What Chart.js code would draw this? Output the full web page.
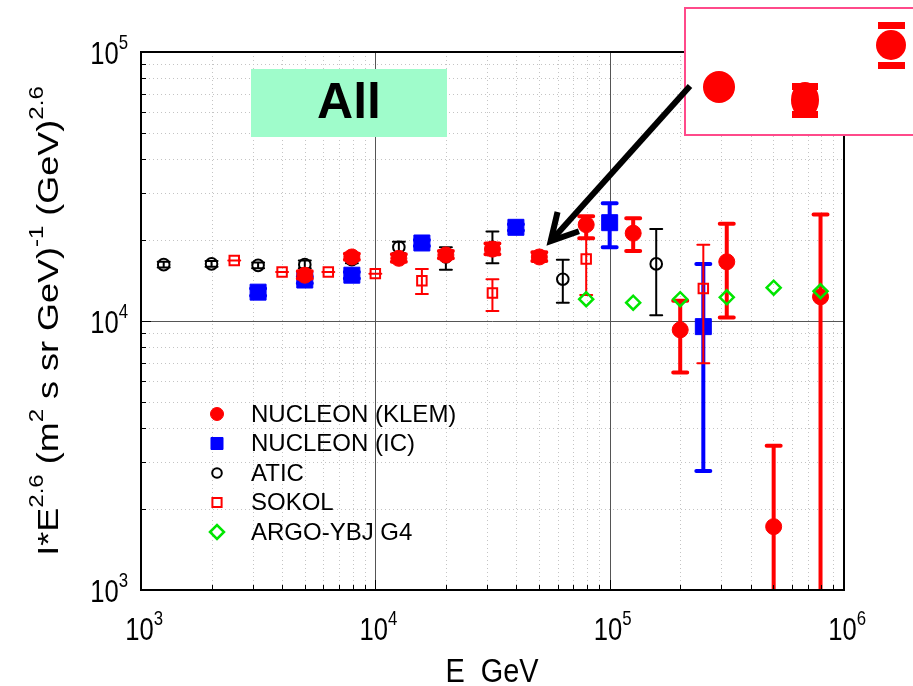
<!DOCTYPE html>
<html>
<head>
<meta charset="utf-8">
<script src="https://cdn.jsdelivr.net/npm/chart.js@4"></script>
<style>
  html, body { margin: 0; padding: 0; background: #fff; }
</style>
</head>
<body>
<canvas id="c" width="913" height="686"></canvas>
<script>
// ---- data ----
var klemE  = [5000, 7940, 12600, 20000, 31600, 50100, 79400, 126000, 200000, 316000, 501000, 794000];
var klemI  = [14800, 17300, 17100, 17600, 18500, 17300, 22800, 21200, 9270, 16600, 1720, 12300];
var klemLo = [14400, 16900, 16600, 17100, 17700, 16700, 20300, 18200, 6440, 10300, 900, 500];
var klemHi = [15300, 17800, 17700, 18200, 19400, 18000, 24500, 24100, 11900, 23000, 3440, 24900];

var icE  = [3160, 5000, 7940, 15800, 39800, 100000, 251000];
var icI  = [12800, 14200, 14800, 19500, 22300, 23200, 9530];
var icLo = [12400, 13800, 14400, 19000, 21700, 18800, 2770];
var icHi = [13200, 14600, 15200, 20000, 22900, 27400, 16300];

var aticE  = [1250, 2000, 3160, 5000, 7940, 12600, 20000, 31600, 63100, 158000];
var aticI  = [16200, 16300, 16100, 16200, 16900, 18800, 17300, 18800, 14300, 16300];
var aticLo = [15800, 15900, 15700, 15700, 16400, 17900, 15500, 16400, 11700, 10500];
var aticHi = [16600, 16700, 16500, 16800, 17500, 19700, 18800, 21500, 16900, 22000];

var sokolE  = [2500, 4000, 6300, 10000, 15800, 31600, 79400, 251000];
var sokolI  = [16800, 15200, 15200, 15000, 14100, 12700, 17000, 13200];
var sokolLo = [16800, 15200, 15200, 15000, 12600, 10900, 12500, 6970];
var sokolHi = [16800, 15200, 15200, 15000, 15600, 14300, 20300, 19200];

var argoE = [79400, 126000, 200000, 316000, 501000, 794000];
var argoI = [12050, 11700, 12050, 12250, 13300, 12900];

var xTicks = [1e3, 1e4, 1e5, 1e6];
var yTicks = [1e3, 1e4, 1e5];

function pts(xs, ys) {
  var out = [];
  for (var i = 0; i < xs.length; i++) out.push({ x: xs[i], y: ys[i] });
  return out;
}

var red = '#ff0000', blue = '#0000ff', green = '#00e600';

// error bars, drawn just before each dataset so layering stays right
var errBars = {
  'NUCLEON (KLEM)': { lo: klemLo, hi: klemHi, color: red, w: 4, cap: 7 },
  'NUCLEON (IC)':   { lo: icLo, hi: icHi, color: blue, w: 4, cap: 7 },
  'ATIC':           { lo: aticLo, hi: aticHi, color: '#000', w: 2, cap: 6 },
  'SOKOL':          { lo: sokolLo, hi: sokolHi, color: red, w: 2, cap: 6 }
};

// draws "base" + superscript pieces; parts = [[text, isSup], ...]
function richWidth(ctx, parts, size, sup) {
  var w = 0;
  parts.forEach(function(p) {
    ctx.font = (p[1] ? sup : size) + 'px "Liberation Sans", Arial, sans-serif';
    w += ctx.measureText(p[0]).width;
  });
  return w;
}
function drawRich(ctx, parts, x, y, size, sup, supRise) {
  parts.forEach(function(p) {
    ctx.font = (p[1] ? sup : size) + 'px "Liberation Sans", Arial, sans-serif';
    ctx.fillText(p[0], x, p[1] ? y - supRise : y);
    x += ctx.measureText(p[0]).width;
  });
}

var errorPlugin = {
  id: 'errbars',
  beforeDatasetDraw: function(chart, args) {
    var ds = chart.data.datasets[args.index];
    var eb = errBars[ds.label];
    if (!eb) return;
    var ctx = chart.ctx, xs = chart.scales.x, ys = chart.scales.y, a = chart.chartArea;
    ctx.save();
    ctx.beginPath();
    ctx.rect(a.left, a.top, a.right - a.left, a.bottom - a.top);
    ctx.clip();
    ctx.strokeStyle = eb.color;
    ctx.lineWidth = eb.w;
    ctx.lineCap = 'round';
    ds.data.forEach(function(d, i) {
      var px = xs.getPixelForValue(d.x);
      var y1 = ys.getPixelForValue(eb.lo[i]);
      var y2 = ys.getPixelForValue(eb.hi[i]);
      ctx.beginPath();
      ctx.moveTo(px, y1); ctx.lineTo(px, y2);
      ctx.moveTo(px - eb.cap, y1); ctx.lineTo(px + eb.cap, y1);
      ctx.moveTo(px - eb.cap, y2); ctx.lineTo(px + eb.cap, y2);
      ctx.stroke();
    });
    ctx.restore();
  }
};

var framePlugin = {
  id: 'frame',
  beforeDatasetsDraw: function(chart) {
    var ctx = chart.ctx, xs = chart.scales.x, ys = chart.scales.y, a = chart.chartArea;
    ctx.save();
    // minor dotted grid
    ctx.strokeStyle = '#c4c4c4';
    ctx.lineWidth = 1;
    ctx.setLineDash([1, 3]);
    for (var e = 3; e < 6; e++) {
      for (var m = 2; m < 10; m++) {
        var px = Math.round(xs.getPixelForValue(m * Math.pow(10, e))) + 0.5;
        ctx.beginPath(); ctx.moveTo(px, a.top); ctx.lineTo(px, a.bottom); ctx.stroke();
      }
    }
    for (e = 3; e < 5; e++) {
      for (m = 2; m < 10; m++) {
        var py = Math.round(ys.getPixelForValue(m * Math.pow(10, e))) + 0.5;
        ctx.beginPath(); ctx.moveTo(a.left, py); ctx.lineTo(a.right, py); ctx.stroke();
      }
    }
    ctx.setLineDash([]);
    // decade lines
    ctx.strokeStyle = '#555';
    [1e4, 1e5].forEach(function(v) {
      var px = Math.round(xs.getPixelForValue(v)) + 0.5;
      ctx.beginPath(); ctx.moveTo(px, a.top); ctx.lineTo(px, a.bottom); ctx.stroke();
    });
    var p4 = Math.round(ys.getPixelForValue(1e4)) + 0.5;
    ctx.beginPath(); ctx.moveTo(a.left, p4); ctx.lineTo(a.right, p4); ctx.stroke();

    // "All" label box
    ctx.fillStyle = '#9ffccb';
    ctx.fillRect(251, 69, 196, 68);
    ctx.fillStyle = '#000';
    ctx.font = 'bold 50px "Liberation Sans", Arial, sans-serif';
    ctx.textAlign = 'center';
    ctx.textBaseline = 'middle';
    ctx.fillText('All', 349, 104);
    ctx.restore();
  },
  afterDraw: function(chart) {
    var ctx = chart.ctx, xs = chart.scales.x, ys = chart.scales.y, a = chart.chartArea;
    ctx.save();
    // frame
    ctx.strokeStyle = '#000';
    ctx.lineWidth = 2;
    ctx.strokeRect(a.left, a.top, a.right - a.left, a.bottom - a.top);
    // inward ticks
    ctx.lineWidth = 1;
    for (var e = 3; e < 6; e++) {
      for (var m = 1; m < 10; m++) {
        var v = m * Math.pow(10, e);
        var px = Math.round(xs.getPixelForValue(v)) + 0.5;
        ctx.beginPath(); ctx.moveTo(px, a.bottom); ctx.lineTo(px, a.bottom - (m === 1 ? 10 : 5)); ctx.stroke();
      }
    }
    for (e = 3; e < 5; e++) {
      for (m = 1; m < 10; m++) {
        v = m * Math.pow(10, e);
        var py = Math.round(ys.getPixelForValue(v)) + 0.5;
        ctx.beginPath(); ctx.moveTo(a.left, py); ctx.lineTo(a.left + (m === 1 ? 10 : 5), py); ctx.stroke();
      }
    }
    // tick labels 10^n
    ctx.fillStyle = '#000';
    ctx.textAlign = 'left';
    ctx.textBaseline = 'alphabetic';
    xTicks.forEach(function(v) {
      var parts = [['10', false], [String(Math.round(Math.log10(v))), true]];
      var px = xs.getPixelForValue(v);
      ctx.save();
      ctx.translate(px, 640);
      ctx.scale(0.8, 1);
      var w = richWidth(ctx, [['10', false]], 32, 21);
      drawRich(ctx, parts, -w / 2 - 2, 0, 32, 21, 15);
      ctx.restore();
    });
    yTicks.forEach(function(v) {
      var parts = [['10', false], [String(Math.round(Math.log10(v))), true]];
      var py = ys.getPixelForValue(v);
      ctx.save();
      ctx.translate(128, py + 12);
      ctx.scale(0.8, 1);
      var w = richWidth(ctx, parts, 32, 21);
      drawRich(ctx, parts, -w, 0, 32, 21, 15);
      ctx.restore();
    });
    // axis titles
    ctx.save();
    ctx.translate(492, 682);
    ctx.scale(0.85, 1);
    ctx.textAlign = 'center';
    ctx.font = '34px "Liberation Sans", Arial, sans-serif';
    ctx.fillText('E  GeV', 0, 0);
    ctx.restore();

    var yt = [['I*E', false], ['2.6', true], [' (m', false], ['2', true], [' s sr GeV)', false],
              ['-1', true], [' (GeV)', false], ['2.6', true]];
    ctx.save();
    ctx.translate(58, 321);
    ctx.rotate(-Math.PI / 2);
    ctx.scale(1.2, 1);
    ctx.textAlign = 'left';
    var tw = richWidth(ctx, yt, 30, 20);
    drawRich(ctx, yt, -tw / 2, 0, 30, 20, 15);
    ctx.restore();

    // legend
    var rows = [
      { t: 'NUCLEON (KLEM)', s: 'circle', r: 6.5, fill: red, stroke: red, lw: 1 },
      { t: 'NUCLEON (IC)', s: 'rect', r: 8.5, fill: blue, stroke: blue, lw: 1 },
      { t: 'ATIC', s: 'circle', r: 4.8, fill: null, stroke: '#000', lw: 2 },
      { t: 'SOKOL', s: 'rect', r: 6.5, fill: null, stroke: red, lw: 2 },
      { t: 'ARGO-YBJ G4', s: 'rectRot', r: 7, fill: null, stroke: green, lw: 2.5 }
    ];
    ctx.textBaseline = 'middle';
    rows.forEach(function(r, i) {
      var y = 414 + i * 29.5;
      ctx.fillStyle = r.fill || 'rgba(0,0,0,0)';
      ctx.strokeStyle = r.stroke;
      ctx.lineWidth = r.lw;
      Chart.helpers.drawPoint(ctx, { pointStyle: r.s, radius: r.r, borderWidth: r.lw, rotation: 0 }, 217, y);
      ctx.fillStyle = '#000';
      ctx.font = '24px "Liberation Sans", Arial, sans-serif';
      ctx.fillText(r.t, 251, y + 1);
    });

    // inset with zoomed points
    ctx.strokeStyle = '#ff4a8a';
    ctx.lineWidth = 2;
    ctx.fillStyle = '#fff';
    ctx.fillRect(685, 8, 240, 127);
    ctx.strokeRect(685, 8, 240, 127);
    ctx.fillStyle = red;
    ctx.beginPath(); ctx.arc(719, 87, 16, 0, Math.PI * 2); ctx.fill();
    ctx.beginPath(); ctx.ellipse(805, 100, 14, 18, 0, 0, Math.PI * 2); ctx.fill();
    ctx.fillRect(792, 83, 26, 7); ctx.fillRect(792, 111, 26, 7);
    ctx.beginPath(); ctx.arc(891, 45, 15, 0, Math.PI * 2); ctx.fill();
    ctx.fillRect(878, 22, 27, 7); ctx.fillRect(878, 62, 27, 7);

    // arrow pointing at the 50 TeV KLEM point
    var tx = xs.getPixelForValue(56000), ty = ys.getPixelForValue(19800);
    var sx = 690, sy = 86;
    var ang = Math.atan2(ty - sy, tx - sx);
    ctx.strokeStyle = '#000';
    ctx.lineWidth = 6;
    ctx.lineCap = 'butt';
    ctx.beginPath(); ctx.moveTo(sx, sy); ctx.lineTo(tx, ty); ctx.stroke();
    ctx.beginPath();
    ctx.moveTo(tx + 30 * Math.cos(ang + Math.PI - 0.5), ty + 30 * Math.sin(ang + Math.PI - 0.5));
    ctx.lineTo(tx, ty);
    ctx.lineTo(tx + 30 * Math.cos(ang + Math.PI + 0.5), ty + 30 * Math.sin(ang + Math.PI + 0.5));
    ctx.stroke();
    ctx.restore();
  }
};

var ctx = document.getElementById('c').getContext('2d');
new Chart(ctx, {
  type: 'scatter',
  data: {
    datasets: [
      { label: 'NUCLEON (KLEM)', data: pts(klemE, klemI), order: 2, pointStyle: 'circle', pointRadius: 8,
        backgroundColor: red, borderColor: red, borderWidth: 1 },
      { label: 'NUCLEON (IC)', data: pts(icE, icI), order: 3, pointStyle: 'rect', pointRadius: 11.3,
        backgroundColor: blue, borderColor: blue, borderWidth: 1 },
      { label: 'ATIC', data: pts(aticE, aticI), order: 4, pointStyle: 'circle', pointRadius: 5.8,
        backgroundColor: 'rgba(255,255,255,0)', borderColor: '#000', borderWidth: 2 },
      { label: 'SOKOL', data: pts(sokolE, sokolI), order: 1, pointStyle: 'rect', pointRadius: 6.7,
        backgroundColor: 'rgba(255,255,255,0)', borderColor: red, borderWidth: 2 },
      { label: 'ARGO-YBJ G4', data: pts(argoE, argoI), order: 0, pointStyle: 'rectRot', pointRadius: 7,
        backgroundColor: 'rgba(255,255,255,0)', borderColor: green, borderWidth: 2.5 }
    ]
  },
  options: {
    responsive: false,
    animation: false,
    devicePixelRatio: 1,
    layout: { padding: { left: 141, right: 69, top: 52, bottom: 96 } },
    scales: {
      x: { type: 'logarithmic', min: 1e3, max: 1e6,
           ticks: { display: false }, grid: { display: false }, border: { display: false },
           afterFit: function(s) { s.height = 0; } },
      y: { type: 'logarithmic', min: 1e3, max: 1e5,
           ticks: { display: false }, grid: { display: false }, border: { display: false },
           afterFit: function(s) { s.width = 0; } }
    },
    plugins: { legend: { display: false }, tooltip: { enabled: false } }
  },
  plugins: [framePlugin, errorPlugin]
});
</script>
</body>
</html>
